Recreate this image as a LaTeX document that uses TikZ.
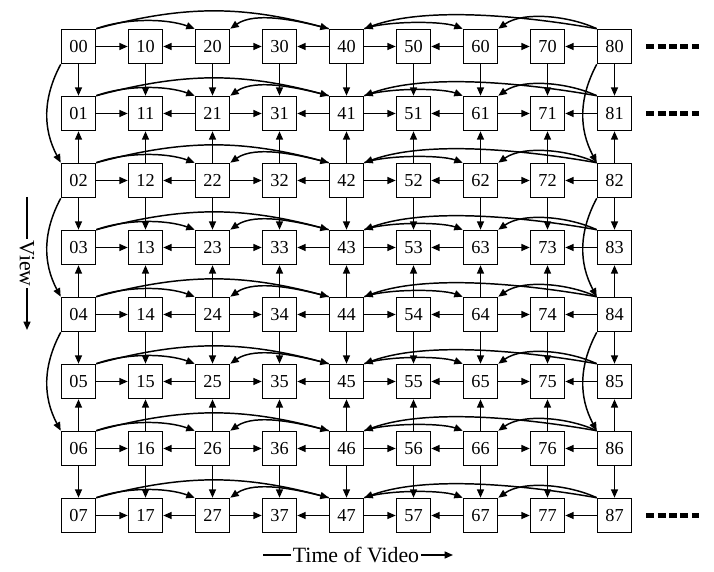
\documentclass[tikz,border=0pt]{standalone}
\usepackage{fontspec}
\setmainfont{Liberation Serif}
\usetikzlibrary{arrows.meta}

\begin{document}
\begin{tikzpicture}[
  x=1cm, y=1cm,
  frame/.style={draw=black, line width=1.1pt, minimum width=0.85cm,
                minimum height=0.85cm, inner sep=0pt,
                font=\fontsize{13}{14}\selectfont},
  ar/.style={-{Triangle[length=6pt,width=5pt]}, line width=1.05pt},
  more/.style={line width=3.2pt, dash pattern=on 0.2cm off 0.085cm},
  axis/.style={font=\fontsize{15.5}{16}\selectfont, inner sep=1pt},
]

\useasboundingbox (0,0) rectangle (17.85,14.3);

% ---- frames ----
\foreach \i in {0,...,8}{
  \foreach \j in {0,...,7}{
    \node[frame] (f\i\j) at (1.9625+1.675*\i, 13.1375-1.675*\j) {\i\j};
  }
}

% ---- time prediction, straight ----
\foreach \j in {0,...,7}{
  \foreach \s/\t in {0/1,2/1,2/3,4/3,4/5,6/5,6/7,8/7}{
    \draw[ar] (f\s\j) -- (f\t\j);
  }
}

% ---- time prediction, arcs ----
\foreach \j in {0,...,7}{
  \draw[ar] (f0\j.north east) to[out=20,in=160,looseness=0.8] (f2\j.north west);
  \draw[ar] (f0\j.north east) to[out=15,in=165] (f4\j.north west);
  \draw[ar] (f4\j.north west) to[out=165,in=35,looseness=0.8] (f2\j.north east);
  \draw[ar] (f8\j.north west) to[out=170,in=20,looseness=0.75] (f4\j.north east);
  \draw[ar] (f4\j.north east) to[out=20,in=160,looseness=0.6] (f6\j.north west);
  \draw[ar] (f8\j.north west) to[out=155,in=35,looseness=0.8] (f6\j.north east);
}

% ---- view prediction, straight ----
\foreach \i in {0,...,8}{
  \foreach \s/\t in {0/1,2/1,2/3,4/3,4/5,6/5,6/7}{
    \draw[ar] (f\i\s) -- (f\i\t);
  }
}

% ---- view prediction, side arcs ----
\foreach \i in {0,8}{
  \foreach \s/\t in {0/2,2/4,4/6}{
    \draw[ar] (f\i\s.south west) to[bend right=28] (f\i\t.north west);
  }
}

% ---- more frames ----
\foreach \j in {0,1,7}{
  \draw[more] ([xshift=0.35cm]f8\j.east) -- ++(1.32,0);
}

% ---- axis labels ----
\node[axis] (time) at (8.9,0.425) {Time of Video};
\coordinate (tl) at (6.575,0.425);
\coordinate (tr) at (11.325,0.425);
\draw[line width=1.05pt] (tl) -- (time.west);
\draw[ar] (time.east) -- (tr);

\node[axis, rotate=-90] (view) at (0.675,7.71) {View};
\coordinate (vt) at (0.675,9.375);
\coordinate (vb) at (0.675,6.05);
\draw[line width=1.05pt] (vt) -- (view.west);
\draw[ar] (view.east) -- (vb);

\end{tikzpicture}
\end{document}
